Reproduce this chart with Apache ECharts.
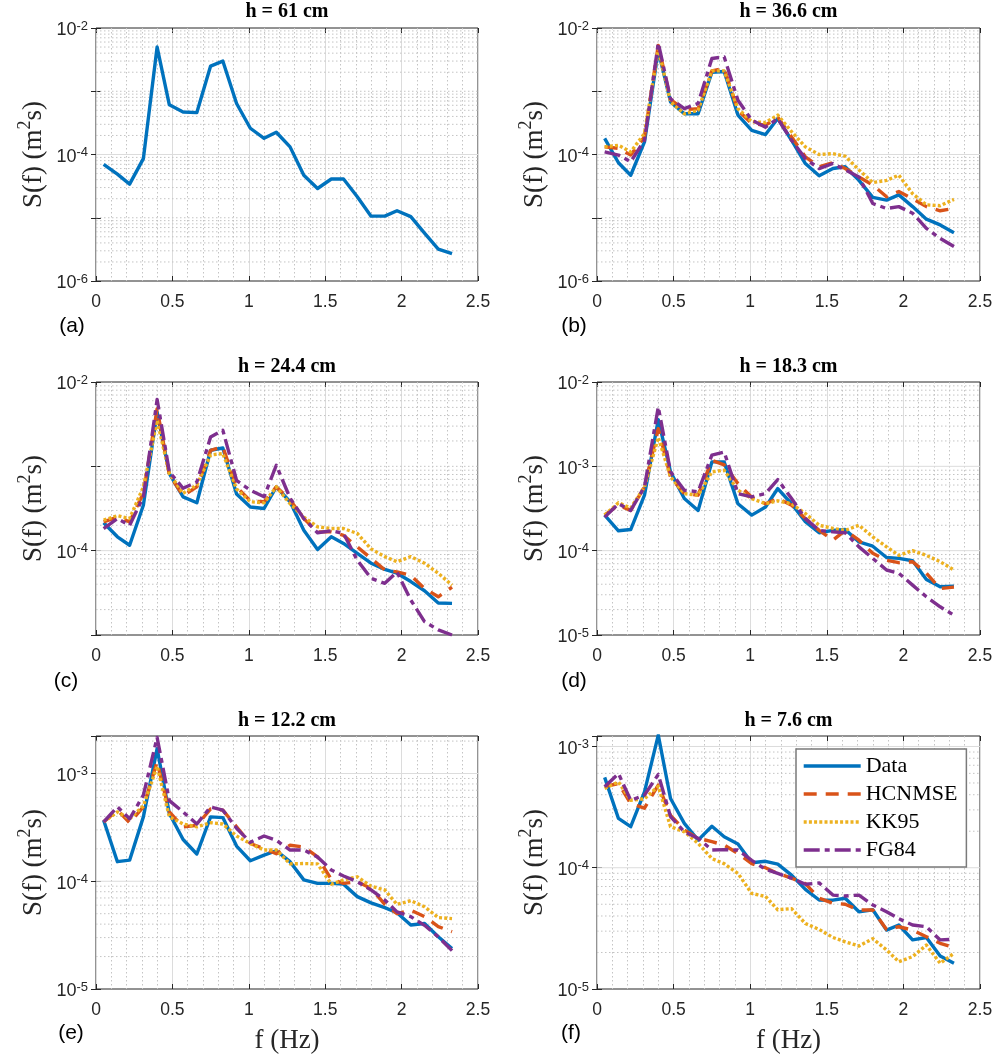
<!DOCTYPE html>
<html>
<head>
<meta charset="utf-8">
<script src="https://cdn.jsdelivr.net/npm/echarts@6/dist/echarts.min.js"></script>
<style>
html,body{margin:0;padding:0;background:#ffffff;}
#chart{width:997px;height:1059px;}
</style>
</head>
<body>
<div id="chart"></div>
<script>
// ---------------- DATA ----------------
const freq = [0.05,0.14,0.22,0.31,0.40,0.48,0.57,0.66,0.75,0.83,0.92,1.01,1.10,1.18,1.27,1.36,1.45,1.54,1.62,1.71,1.80,1.89,1.97,2.06,2.15,2.24,2.33];

const seriesNames = ['Data','HCNMSE','KK95','FG84'];
const panelTitles = ['h = 61 cm','h = 36.6 cm','h = 24.4 cm','h = 18.3 cm','h = 12.2 cm','h = 7.6 cm'];
const panelLabels = ['(a)','(b)','(c)','(d)','(e)','(f)'];
const xTickValues = [0,0.5,1,1.5,2,2.5];

// (a) h = 61 cm
const aData = [7.0e-5,4.9e-5,3.4e-5,8.6e-5,5.0e-3,6.1e-4,4.7e-4,4.6e-4,2.5e-3,3.0e-3,6.4e-4,2.6e-4,1.8e-4,2.25e-4,1.32e-4,4.7e-5,2.9e-5,4.1e-5,4.1e-5,2.15e-5,1.06e-5,1.06e-5,1.29e-5,1.04e-5,5.7e-6,3.2e-6,2.7e-6];

// (b) h = 36.6 cm
const bData = [1.8e-4,7.4e-5,4.7e-5,1.58e-4,4.4e-3,6.8e-4,4.4e-4,4.4e-4,2.0e-3,2.05e-3,4.2e-4,2.4e-4,2.07e-4,3.7e-4,1.68e-4,7.2e-5,4.6e-5,6.0e-5,6.4e-5,3.9e-5,2.1e-5,1.9e-5,2.3e-5,1.5e-5,9.5e-6,7.7e-6,5.8e-6];
const bHC   = [1.32e-4,1.25e-4,9.8e-5,1.9e-4,5.3e-3,7.4e-4,5.1e-4,5.3e-4,2.1e-3,2.3e-3,5.0e-4,3.1e-4,2.9e-4,3.9e-4,1.9e-4,9.2e-5,6.4e-5,7.4e-5,6.0e-5,4.4e-5,3.3e-5,2.15e-5,2.6e-5,2.0e-5,1.5e-5,1.29e-5,1.4e-5];
const bKK   = [1.32e-4,1.4e-4,1.1e-4,2.15e-4,4.7e-3,6.8e-4,4.4e-4,5.0e-4,2.1e-3,2.1e-3,5.3e-4,3.3e-4,3.2e-4,4.2e-4,2.3e-4,1.32e-4,1.0e-4,1.03e-4,9.4e-5,5.7e-5,3.6e-5,3.9e-5,4.7e-5,2.4e-5,1.6e-5,1.55e-5,1.95e-5];
const bFG   = [1.1e-4,9.8e-5,7.7e-5,1.68e-4,5.8e-3,7.6e-4,5.3e-4,6.4e-4,3.3e-3,3.5e-3,7.2e-4,3.5e-4,2.7e-4,3.7e-4,1.68e-4,8.6e-5,6.0e-5,7.2e-5,5.7e-5,4.4e-5,1.68e-5,1.4e-5,1.5e-5,1.18e-5,6.8e-6,4.7e-6,3.5e-6];

// (c) h = 24.4 cm
const cData = [2.14e-4,1.46e-4,1.16e-4,3.46e-4,4.4e-3,8.2e-4,4.35e-4,3.7e-4,1.55e-3,1.65e-3,4.7e-4,3.3e-4,3.16e-4,5.7e-4,3.8e-4,1.75e-4,1.03e-4,1.46e-4,1.22e-4,9.3e-5,7.1e-5,6.0e-5,5.4e-5,4.3e-5,3.35e-5,2.4e-5,2.37e-5];
const cHC   = [2.2e-4,2.5e-4,2.2e-4,4.8e-4,4.8e-3,7.9e-4,4.5e-4,5.7e-4,1.55e-3,1.7e-3,5.7e-4,3.9e-4,3.8e-4,5.7e-4,4.0e-4,2.4e-4,1.67e-4,1.67e-4,1.52e-4,1.11e-4,8.1e-5,5.9e-5,5.6e-5,5.1e-5,3.56e-5,2.84e-5,3.7e-5];
const cKK   = [2.3e-4,2.6e-4,2.4e-4,5.7e-4,3.5e-3,8.2e-4,4.8e-4,6.0e-4,1.36e-3,1.42e-3,5.4e-4,3.8e-4,3.7e-4,5.7e-4,3.6e-4,2.5e-4,1.92e-4,1.83e-4,1.83e-4,1.6e-4,1.05e-4,8.5e-5,7.4e-5,8.5e-5,7.1e-5,5.4e-5,3.9e-5];
const cFG   = [1.83e-4,2.4e-4,2.0e-4,4.35e-4,6.2e-3,8.6e-4,5.5e-4,6.5e-4,2.23e-3,2.68e-3,6.8e-4,5.2e-4,4.35e-4,1.03e-3,4.2e-4,2.4e-4,1.63e-4,1.72e-4,1.6e-4,7.7e-5,4.7e-5,4.1e-5,5.6e-5,2.6e-5,1.44e-5,1.15e-5,1.0e-5];

// (d) h = 18.3 cm
const dData = [2.64e-4,1.72e-4,1.78e-4,4.55e-4,3.58e-3,8.6e-4,4.15e-4,3.0e-4,1.13e-3,1.13e-3,3.6e-4,2.64e-4,3.3e-4,5.45e-4,3.6e-4,2.2e-4,1.63e-4,1.74e-4,1.78e-4,1.27e-4,1.13e-4,8.3e-5,8.1e-5,7.6e-5,4.56e-5,3.73e-5,3.8e-5];
const dHC   = [2.64e-4,3.47e-4,3.0e-4,5.7e-4,2.8e-3,7.5e-4,4.75e-4,4.55e-4,1.18e-3,1.04e-3,6.25e-4,4.3e-4,3.6e-4,4.15e-4,3.47e-4,2.4e-4,1.74e-4,1.33e-4,1.74e-4,1.33e-4,9.3e-5,7.7e-5,7.2e-5,7.4e-5,5.4e-5,3.56e-5,3.7e-5];
const dKK   = [2.64e-4,3.7e-4,3.2e-4,5.7e-4,2.2e-3,7.5e-4,4.75e-4,4.55e-4,8.6e-4,9.0e-4,5.2e-4,4.15e-4,3.6e-4,3.9e-4,3.6e-4,2.76e-4,2.0e-4,1.84e-4,1.74e-4,2.0e-4,1.46e-4,1.11e-4,8.8e-5,1.0e-4,8.8e-5,7.4e-5,5.9e-5];
const dFG   = [2.5e-4,3.6e-4,3.0e-4,5.7e-4,5.06e-3,8.6e-4,5.2e-4,5.0e-4,1.36e-3,1.48e-3,4.75e-4,4.35e-4,4.75e-4,6.97e-4,4.15e-4,2.4e-4,1.74e-4,1.67e-4,1.63e-4,1.11e-4,8.1e-5,5.9e-5,5.4e-5,3.9e-5,2.84e-5,2.16e-5,1.72e-5];

// (e) h = 12.2 cm
const eData = [3.69e-4,1.52e-4,1.57e-4,3.96e-4,1.7e-3,4.25e-4,2.44e-4,1.79e-4,3.96e-4,3.9e-4,2.12e-4,1.55e-4,1.75e-4,1.92e-4,1.52e-4,1.03e-4,9.56e-5,9.56e-5,9.4e-5,7.2e-5,6.3e-5,5.7e-5,5.1e-5,3.93e-5,4.06e-5,3.05e-5,2.38e-5];
const eHC   = [3.55e-4,4.57e-4,3.5e-4,4.9e-4,1.28e-3,4.4e-4,3.2e-4,3.3e-4,4.7e-4,4.57e-4,3.2e-4,2.24e-4,2.0e-4,1.8e-4,2.16e-4,2.08e-4,1.68e-4,1.04e-4,9.56e-5,9.9e-5,8.6e-5,6.1e-5,5.0e-5,5.4e-5,4.7e-5,3.8e-5,3.4e-5];
const eKK   = [3.55e-4,4.4e-4,3.8e-4,5.0e-4,1.17e-3,3.96e-4,3.4e-4,3.2e-4,3.5e-4,3.4e-4,2.63e-4,2.24e-4,1.95e-4,1.95e-4,1.45e-4,1.46e-4,1.45e-4,9.4e-5,1.03e-4,1.1e-4,9.0e-5,8.3e-5,6.1e-5,6.6e-5,5.8e-5,4.6e-5,4.5e-5];
const eFG   = [3.55e-4,4.9e-4,3.8e-4,6.3e-4,2.16e-3,5.6e-4,4.4e-4,3.4e-4,4.9e-4,4.57e-4,3.1e-4,2.3e-4,2.63e-4,2.4e-4,1.95e-4,1.95e-4,1.68e-4,1.27e-4,1.12e-4,9.9e-5,8.3e-5,6.7e-5,5.2e-5,4.7e-5,3.9e-5,3.05e-5,2.27e-5];

// (f) h = 7.6 cm
const fData = [5.56e-4,2.55e-4,2.18e-4,4.23e-4,1.24e-3,3.72e-4,2.32e-4,1.69e-4,2.2e-4,1.8e-4,1.57e-4,1.1e-4,1.13e-4,1.07e-4,8.7e-5,6.63e-5,5.42e-5,5.4e-5,5.6e-5,4.33e-5,4.5e-5,3.06e-5,3.37e-5,2.54e-5,2.66e-5,1.87e-5,1.63e-5];
const fHC   = [4.66e-4,4.95e-4,3.39e-4,3.1e-4,4.8e-4,2.7e-4,2.05e-4,1.75e-4,1.64e-4,1.54e-4,1.31e-4,1.08e-4,1.0e-4,8.97e-5,8.2e-5,7.4e-5,5.6e-5,5.1e-5,5.0e-5,4.48e-5,4.48e-5,3.1e-5,3.26e-5,3.06e-5,2.7e-5,2.38e-5,2.2e-5];
const fKK   = [4.5e-4,5.1e-4,3.6e-4,3.7e-4,4.7e-4,2.18e-4,1.98e-4,1.59e-4,1.19e-4,1.08e-4,8.97e-5,6.14e-5,5.8e-5,4.5e-5,4.6e-5,3.47e-5,3.1e-5,2.66e-5,2.45e-5,2.26e-5,2.6e-5,2.1e-5,1.68e-5,1.85e-5,2.3e-5,1.63e-5,1.97e-5];
const fFG   = [4.66e-4,5.98e-4,3.6e-4,3.97e-4,5.87e-4,2.64e-4,1.98e-4,1.75e-4,1.4e-4,1.41e-4,1.4e-4,1.15e-4,9.7e-5,8.97e-5,8.2e-5,7.3e-5,7.5e-5,5.95e-5,5.85e-5,5.95e-5,4.93e-5,4.34e-5,3.8e-5,3.37e-5,3.26e-5,2.54e-5,2.57e-5];

// y-axis ranges and labelled decades per panel
const yMins = [1e-6,1e-6,1e-5,1e-5,1e-5,1e-5];
const yMaxs = [1e-2,1e-2,1e-2,1e-2,2.23e-3,1.22e-3];
const yLabelExps = [[-6,-4,-2],[-6,-4,-2],[-4,-2],[-5,-4,-3,-2],[-5,-4,-3],[-5,-4,-3]];

const panelSeries = [
  [aData],
  [bData,bHC,bKK,bFG],
  [cData,cHC,cKK,cFG],
  [dData,dHC,dKK,dFG],
  [eData,eHC,eKK,eFG],
  [fData,fHC,fKK,fFG]
];

// ---------------- STYLE / LAYOUT ----------------
const colors = ['#0072BD','#D95319','#EDB120','#7E2F8E'];
const dashTypes = ['solid',[13,9],[3,2.2],[16,5,5,5]];
const gridBoxes = [
  {left:96, top:28, width:382, height:253},
  {left:597, top:28, width:383, height:253},
  {left:96, top:382, width:382, height:253},
  {left:597, top:382, width:383, height:253},
  {left:96, top:736, width:382, height:253},
  {left:597, top:736, width:383, height:253}
];
const titlePos = [[287,12],[788.5,12],[287,367],[788.5,367],[287,721],[788.5,721]];
const labelPos = [[72,326],[574,326],[66,681],[574,681],[71,1033],[571,1033]];

const AX = '#262626';
const majorStyle = {color:'#dcdcdc', width:1, type:'solid'};
const minorStyle = {color:'#c4c4c4', width:1, type:[1.5,2.5]};

// horizontal grid-line levels (decade sub-divisions) for the log y axis
function yGridLevels(i){
  const major = [], minor = [];
  const lo = yMins[i], hi = yMaxs[i];
  const n0 = Math.round(Math.log10(lo)), n1 = Math.ceil(Math.log10(hi));
  for (let n = n0; n <= n1; n++) {
    for (let k = 1; k <= 9; k++) {
      const v = k * Math.pow(10, n);
      if (v <= lo * 1.001 || v >= hi * 0.999) continue;
      if (k === 1 && yLabelExps[i].indexOf(n) >= 0) major.push(v); else minor.push(v);
    }
  }
  return {major:major, minor:minor};
}
function levelSegments(levels){
  const x0 = xTickValues[0], x1 = xTickValues[xTickValues.length-1];
  const out = [];
  levels.forEach(function(v){ out.push([x0, v]); out.push([x1, v]); out.push([x1, '-']); });
  return out;
}

function yLabelFormatter(i){
  return function(v){
    const l = Math.log10(v);
    const e = Math.round(l);
    if (Math.abs(l - e) > 1e-6) return '';
    if (yLabelExps[i].indexOf(e) < 0) return '';
    return '{b|10}{e|' + e + '}';
  };
}

const grids = [], xAxes = [], yAxes = [], series = [], graphics = [];

for (let i = 0; i < 6; i++) {
  grids.push(Object.assign({show:true, borderColor:AX, borderWidth:1, backgroundColor:'transparent', outerBoundsMode:'none', containLabel:false}, gridBoxes[i]));

  const xa = {
    type:'value', gridIndex:i, min:xTickValues[0], max:xTickValues[xTickValues.length-1], interval:0.5,
    axisLine:{show:false},
    axisTick:{show:true, inside:true, length:5, lineStyle:{color:AX}},
    minorTick:{show:false, splitNumber:5},
    splitLine:{show:true, lineStyle:{color:'#dcdcdc', width:1}},
    minorSplitLine:{show:true, lineStyle:{color:'#c4c4c4', width:1, type:[1.5,2.5]}},
    axisLabel:{fontFamily:'Liberation Sans', fontSize:17.5, color:AX, margin:12, formatter:function(v){return String(v);}}
  };
  if (i >= 4) {
    xa.name = 'f (Hz)';
    xa.nameLocation = 'middle';
    xa.nameGap = 38;
    xa.nameTextStyle = {fontFamily:'Liberation Serif', fontSize:27, color:AX};
  }
  xAxes.push(xa);
  // mirrored top axis: tick marks only (box style)
  xAxes.push({
    type:'value', gridIndex:i, position:'top', min:xTickValues[0], max:xTickValues[xTickValues.length-1], interval:0.5,
    axisLine:{show:false}, axisLabel:{show:false}, splitLine:{show:false},
    axisTick:{show:true, inside:true, length:5, lineStyle:{color:AX}}
  });

  const yCommon = {
    type:'log', logBase:10, gridIndex:i, min:yMins[i], max:yMaxs[i], interval:1,
    axisLine:{show:false},
    axisTick:{show:true, inside:true, length:5, lineStyle:{color:AX}},
    splitLine:{show:false}
  };
  yAxes.push(Object.assign({}, yCommon, {
    axisLabel:{
      formatter:yLabelFormatter(i), margin:8, color:AX, fontFamily:'Liberation Sans', fontSize:18,
      rich:{
        b:{fontFamily:'Liberation Sans', fontSize:18, lineHeight:17, color:AX, padding:[5,0,0,0]},
        e:{fontFamily:'Liberation Sans', fontSize:13, lineHeight:12, color:AX, verticalAlign:'top'}
      }
    },
    name:'{a|S(f) (m}{s|2}{a|s)}',
    nameLocation:'middle', nameRotate:90, nameGap:44,
    nameTextStyle:{
      fontFamily:'Liberation Serif', fontSize:27, color:AX,
      rich:{
        a:{fontFamily:'Liberation Serif', fontSize:27, lineHeight:36, color:AX},
        s:{fontFamily:'Liberation Serif', fontSize:18, lineHeight:9, color:AX, verticalAlign:'top'}
      }
    }
  }));
  // mirrored right axis: tick marks only (box style)
  yAxes.push(Object.assign({}, yCommon, {position:'right', axisLabel:{show:false}}));

  // grid lines of the log axis, drawn through the axes' own scales
  const lv = yGridLevels(i);
  [['gridMinor', lv.minor, minorStyle], ['gridMajor', lv.major, majorStyle]].forEach(function(g){
    series.push({
      type:'line', name:g[0] + i, xAxisIndex:2*i, yAxisIndex:2*i,
      data: levelSegments(g[1]), connectNulls:false,
      showSymbol:false, symbol:'none', silent:true, animation:false, z:1,
      lineStyle:g[2], emphasis:{disabled:true}, tooltip:{show:false}
    });
  });

  panelSeries[i].forEach(function(vals, s){
    series.push({
      type:'line', name:seriesNames[s], xAxisIndex:2*i, yAxisIndex:2*i,
      data: freq.map(function(f, j){ return [f, vals[j]]; }),
      showSymbol:false, symbol:'circle', clip:true, animation:false,
      z: 3 + s,
      color: colors[s],
      lineStyle:{color:colors[s], width:3.4, type:dashTypes[s], cap:'butt', join:'round'},
      itemStyle:{color:colors[s]},
      emphasis:{disabled:true}
    });
  });

  graphics.push({
    type:'text', x:titlePos[i][0], y:titlePos[i][1], silent:true,
    style:{text:panelTitles[i], font:'bold 20px "Liberation Serif"', fill:'#000000', align:'center', verticalAlign:'middle'}
  });
  graphics.push({
    type:'text', x:labelPos[i][0], y:labelPos[i][1], silent:true,
    style:{text:panelLabels[i], font:'21px "Liberation Sans"', fill:'#000000', align:'center', verticalAlign:'middle'}
  });
}

const chart = echarts.init(document.getElementById('chart'), null, {renderer:'canvas'});
chart.setOption({
  animation:false,
  backgroundColor:'#ffffff',
  grid:grids, xAxis:xAxes, yAxis:yAxes, series:series,
  graphic:graphics,
  legend:{
    show:true, data:seriesNames, orient:'vertical',
    left:796, top:749, padding:[6,9,6,6], itemGap:6, itemWidth:57, itemHeight:14,
    borderColor:'#7a7a7a', borderWidth:1.5, backgroundColor:'#ffffff',
    selectedMode:false,
    itemStyle:{opacity:0},
    lineStyle:{width:3.4},
    textStyle:{fontFamily:'Liberation Serif', fontSize:22, lineHeight:22, color:'#000000'}
  }
});
</script>
</body>
</html>
